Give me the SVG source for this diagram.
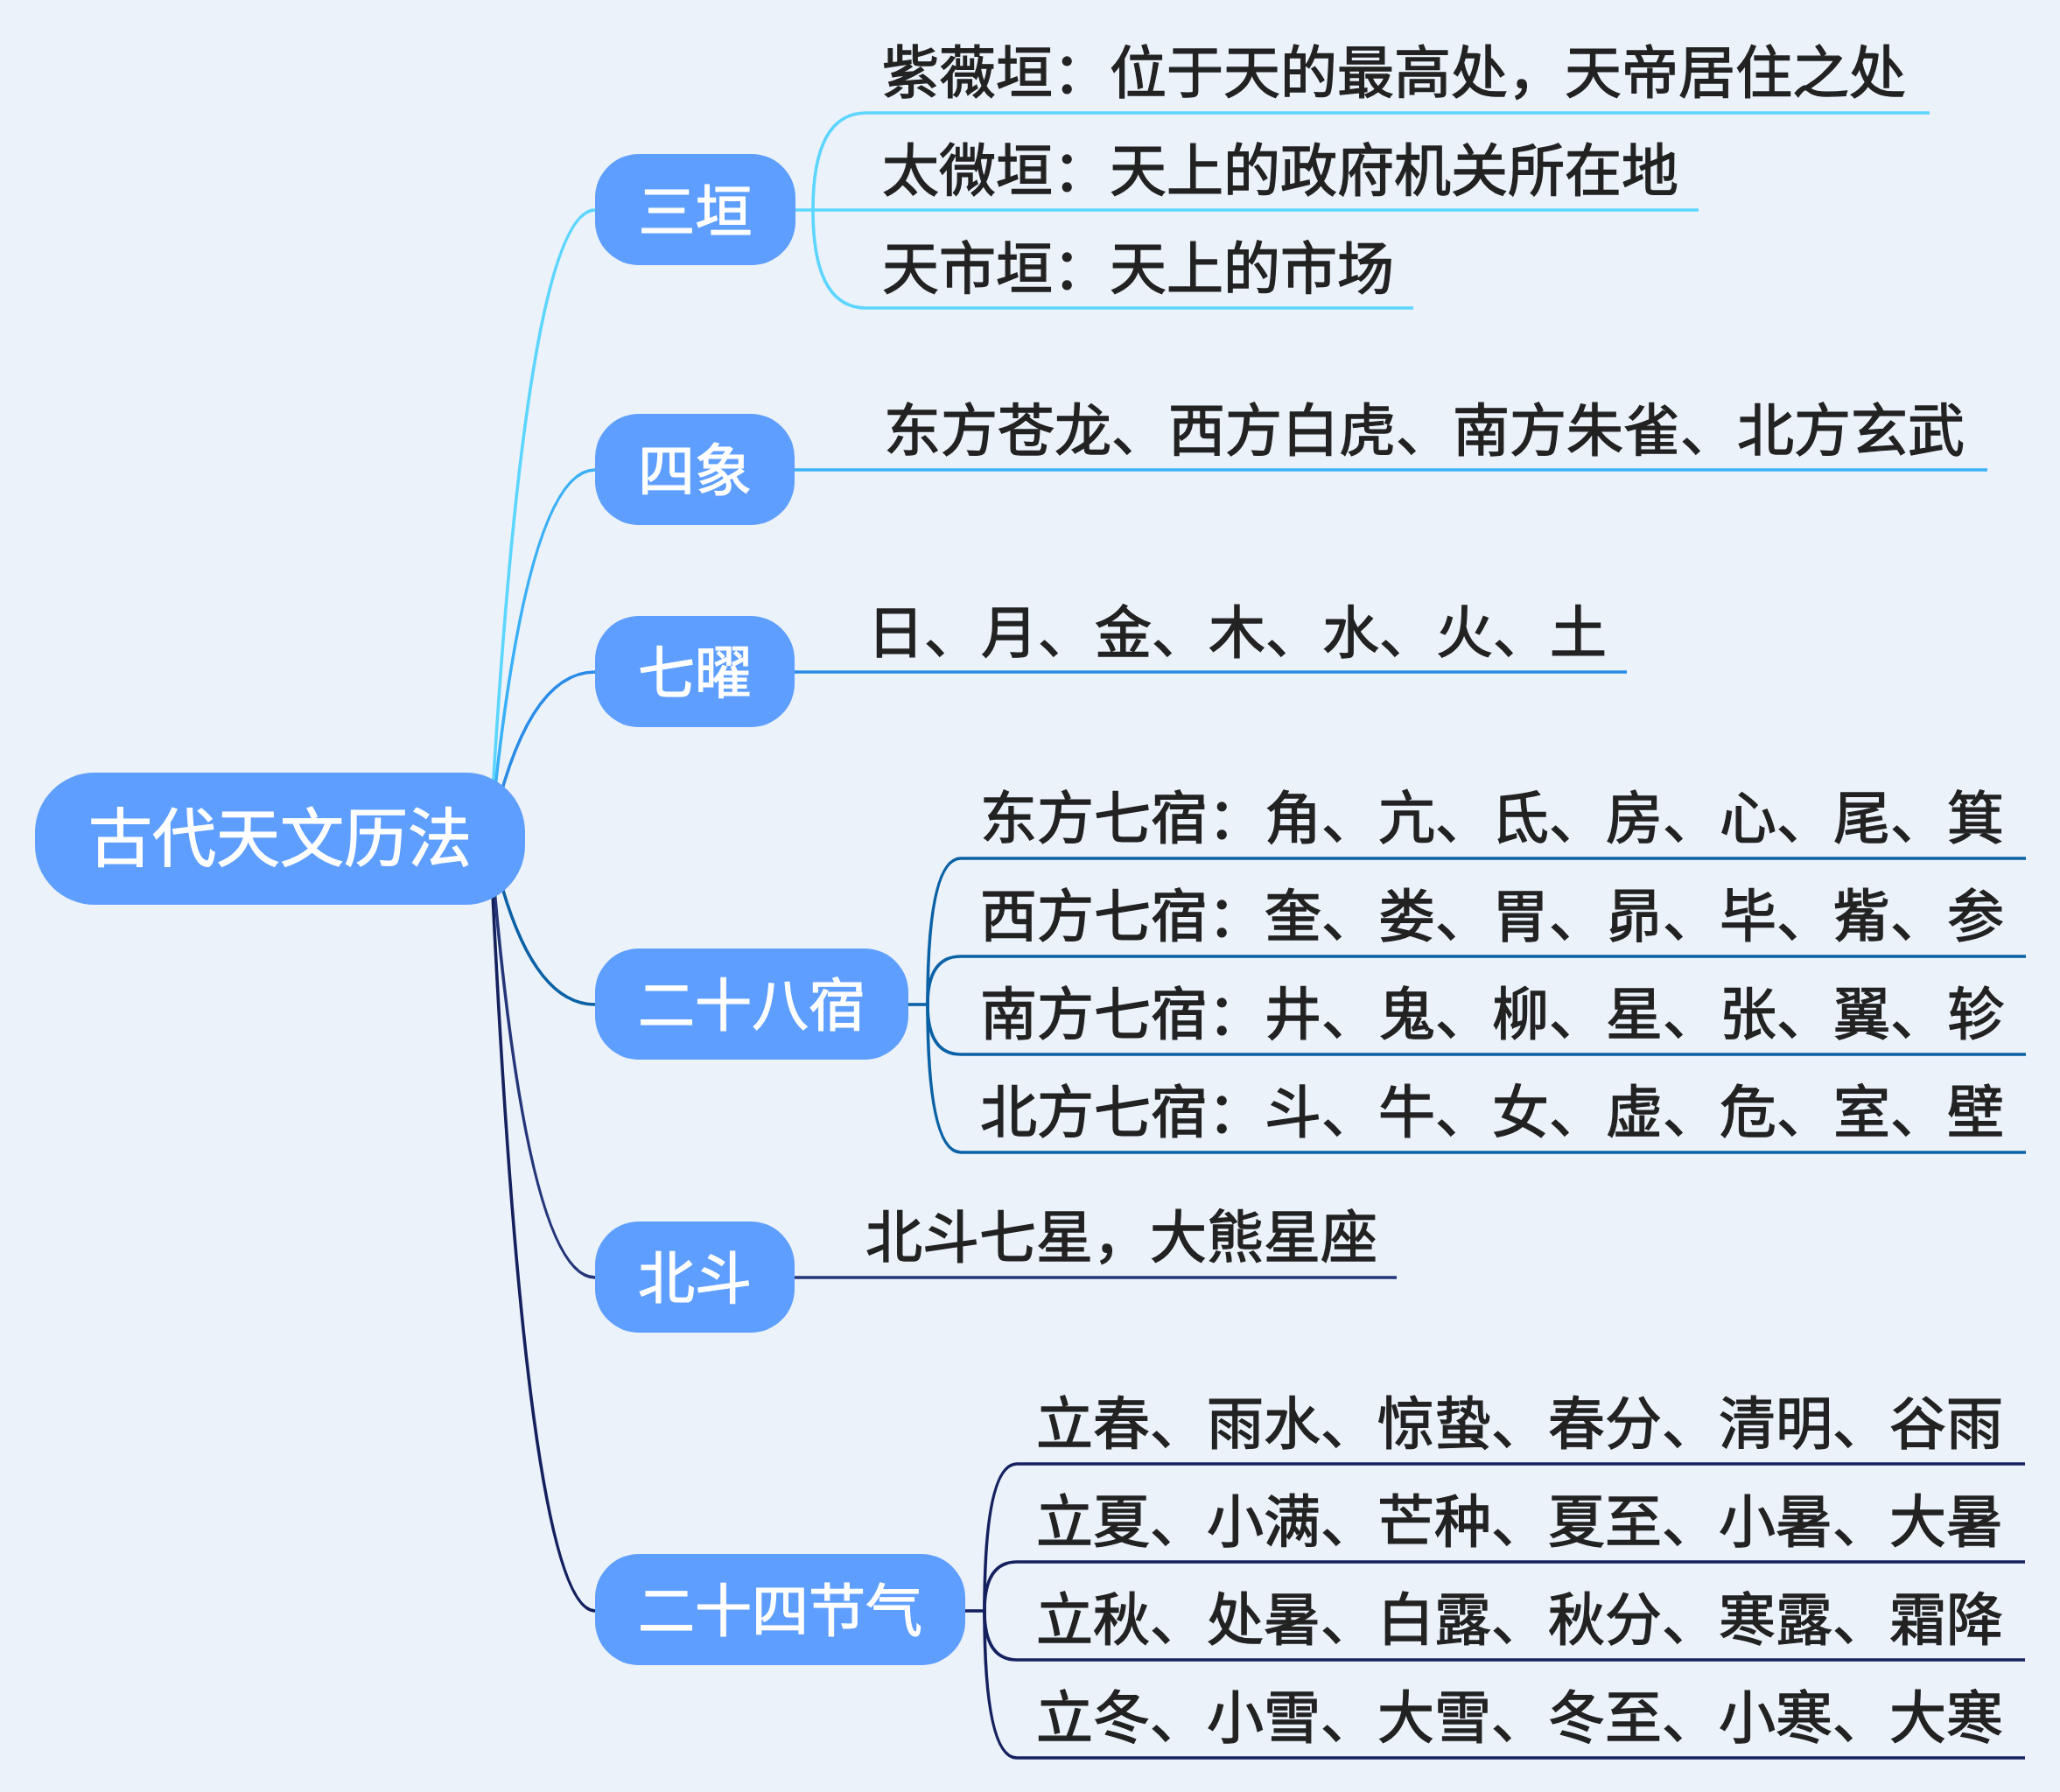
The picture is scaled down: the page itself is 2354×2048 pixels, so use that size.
<svg xmlns="http://www.w3.org/2000/svg" width="2354" height="2048" viewBox="0 0 2354 2048">
<style>
.bg{fill:#EBF2FA}
.box{fill:#5E9EFF}
.rt{font-family:"Noto Sans CJK SC","Noto Sans",sans-serif;font-size:73px;fill:#FFFFFF;stroke:#FFFFFF;stroke-width:1.2px;font-weight:400;text-anchor:middle}
.bt{font-family:"Noto Sans CJK SC","Noto Sans",sans-serif;font-size:65px;fill:#FFFFFF;stroke:#FFFFFF;stroke-width:1.2px;font-weight:400;text-anchor:middle}
.lt{font-family:"Noto Sans CJK SC","Noto Sans",sans-serif;font-size:65px;fill:#222222;stroke:#222222;stroke-width:1.3px;font-weight:400}
.c{fill:none;stroke-width:3.6;stroke-linecap:butt}
.c1{stroke:#5CD6FF}
.c2{stroke:#3AB0F7}
.c3{stroke:#2A8CE8}
.c4{stroke:#0A61A5}
.c5{stroke:#243679}
.c6{stroke:#14215E}
</style>
<rect class="bg" x="0" y="0" width="2354" height="2048"/>
<g id="connectors">
  <path class="c c1" d="M560 958 Q600 240 680 240"/>
  <path class="c c2" d="M560 958 Q600 537 680 537"/>
  <path class="c c3" d="M560 958 Q600 768 680 768"/>
  <path class="c c4" d="M560 958 Q600 1148 680 1148"/>
  <path class="c c5" d="M560 958 Q600 1460 680 1460"/>
  <path class="c c6" d="M560 958 Q600 1841 680 1841"/>
  <path class="c c1" d="M909 240 L1941 240"/>
  <path class="c c1" d="M929 240 Q929 129 990 129 L2205 129"/>
  <path class="c c1" d="M929 240 Q929 352 990 352 L1615 352"/>
  <path class="c c2" d="M908 537 L2271 537"/>
  <path class="c c3" d="M908 768 L1859 768"/>
  <path class="c c4" d="M1038 1148 L1060 1148"/>
  <path class="c c4" d="M1060 1148 Q1060 981 1098 981 L2315 981"/>
  <path class="c c4" d="M1060 1148 Q1060 1093 1098 1093 L2315 1093"/>
  <path class="c c4" d="M1060 1148 Q1060 1205 1098 1205 L2315 1205"/>
  <path class="c c4" d="M1060 1148 Q1060 1317 1098 1317 L2315 1317"/>
  <path class="c c5" d="M908 1460 L1596 1460"/>
  <path class="c c6" d="M1103 1841 L1125 1841"/>
  <path class="c c6" d="M1125 1841 Q1125 1673 1162 1673 L2314 1673"/>
  <path class="c c6" d="M1125 1841 Q1125 1785 1162 1785 L2314 1785"/>
  <path class="c c6" d="M1125 1841 Q1125 1897 1162 1897 L2314 1897"/>
  <path class="c c6" d="M1125 1841 Q1125 2009 1162 2009 L2314 2009"/>
</g>
<g id="root">
  <rect class="box" x="40" y="883" width="560" height="151" rx="68" ry="68"/>
  <text class="rt" x="320" y="984">古代天文历法</text>
</g>
<g id="n-sanyuan">
  <rect class="box" x="680" y="176" width="229" height="127" rx="50" ry="50"/>
  <text class="bt" x="794.5" y="265">三垣</text>
</g>
<g id="n-sixiang">
  <rect class="box" x="680" y="473" width="228" height="127" rx="50" ry="50"/>
  <text class="bt" x="794" y="561">四象</text>
</g>
<g id="n-qiyao">
  <rect class="box" x="680" y="704" width="228" height="127" rx="50" ry="50"/>
  <text class="bt" x="794" y="792">七曜</text>
</g>
<g id="n-ershibaxiu">
  <rect class="box" x="680" y="1084" width="358" height="127" rx="50" ry="50"/>
  <text class="bt" x="859" y="1172">二十八宿</text>
</g>
<g id="n-beidou">
  <rect class="box" x="680" y="1396" width="228" height="127" rx="50" ry="50"/>
  <text class="bt" x="794" y="1484">北斗</text>
</g>
<g id="n-jieqi">
  <rect class="box" x="680" y="1776" width="423" height="127" rx="50" ry="50"/>
  <text class="bt" x="891.5" y="1864">二十四节气</text>
</g>
<g id="leaf-ziwei"><text class="lt" x="1008" y="106">紫薇垣：位于天的最高处，天帝居住之处</text></g>
<g id="leaf-taiwei"><text class="lt" x="1008" y="218">太微垣：天上的政府机关所在地</text></g>
<g id="leaf-tianshi"><text class="lt" x="1008" y="330">天市垣：天上的市场</text></g>
<g id="leaf-sixiang"><text class="lt" x="1010" y="515">东方苍龙、西方白虎、南方朱雀、北方玄武</text></g>
<g id="leaf-qiyao"><text class="lt" x="991" y="746">日、月、金、木、水、火、土</text></g>
<g id="leaf-dong"><text class="lt" x="1120" y="958">东方七宿：角、亢、氐、房、心、尾、箕</text></g>
<g id="leaf-xi"><text class="lt" x="1120" y="1070">西方七宿：奎、娄、胃、昴、毕、觜、参</text></g>
<g id="leaf-nan"><text class="lt" x="1120" y="1182">南方七宿：井、鬼、柳、星、张、翼、轸</text></g>
<g id="leaf-bei"><text class="lt" x="1120" y="1294">北方七宿：斗、牛、女、虚、危、室、壁</text></g>
<g id="leaf-beidou"><text class="lt" x="989" y="1437">北斗七星，大熊星座</text></g>
<g id="leaf-chun"><text class="lt" x="1184" y="1650">立春、雨水、惊蛰、春分、清明、谷雨</text></g>
<g id="leaf-xia"><text class="lt" x="1184" y="1762">立夏、小满、芒种、夏至、小暑、大暑</text></g>
<g id="leaf-qiu"><text class="lt" x="1184" y="1874">立秋、处暑、白露、秋分、寒露、霜降</text></g>
<g id="leaf-dongji"><text class="lt" x="1184" y="1986">立冬、小雪、大雪、冬至、小寒、大寒</text></g>
</svg>
